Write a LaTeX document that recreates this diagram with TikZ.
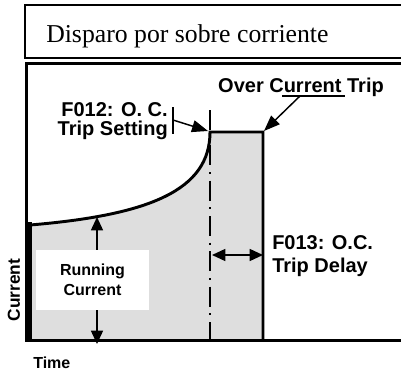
\documentclass[tikz,border=0pt]{standalone}
\usepackage{fontspec}
\setmainfont{Liberation Serif}
\setsansfont{Liberation Sans}
\usetikzlibrary{arrows.meta}
\definecolor{areagray}{RGB}{222,222,222}

\begin{document}
\begin{tikzpicture}[x=0.75pt, y=-0.75pt,
  lbl/.style={font=\sffamily\bfseries\fontsize{15}{14.5}\selectfont, inner sep=0pt},
  small/.style={font=\sffamily\bfseries\fontsize{12}{15}\selectfont, inner sep=0pt},
  curve/.style={line width=2.2pt, line join=miter},
  pointer/.style={line width=1.1pt, -{Triangle[length=12pt,width=9pt]}},
  both/.style={line width=1.1pt, {Triangle[length=10pt,width=9pt]}-{Triangle[length=10pt,width=9pt]}},
  dashdot/.style={line width=1.4pt, dash pattern=on 15pt off 5pt on 1.5pt off 5pt}]
\useasboundingbox (0,0) rectangle (401,372);
\clip (0,0) rectangle (401,372);
\coordinate (c0) at (30,225);
\coordinate (ctop) at (210,132);
\coordinate (ctr) at (263,132);
\coordinate (cbr) at (263,340);
\coordinate (cbl) at (30,340);
\coordinate (dtop) at (210,110);
\coordinate (dbot) at (210,340);
\coordinate (rtop) at (97,217);
\coordinate (rbot) at (97,344);
\coordinate (dl) at (212,255);
\coordinate (dr) at (263,255);
\coordinate (bt) at (173,107);
\coordinate (bb) at (173,134);
\coordinate (bm) at (173,120);
\coordinate (ul) at (282,96);
\coordinate (ur) at (345,96);
\coordinate (um) at (300,96);
\draw[line width=1.1pt] (25,5) rectangle (420,58);
\node[font=\fontsize{19.3}{23}\selectfont, inner sep=0pt, anchor=base west] (title) at (46,42) {Disparo por sobre corriente};
\fill[areagray] (c0) .. controls (150,215) and (210,190) .. (ctop) -- (ctr) -- (cbr) -- (cbl) -- cycle;
\draw[dashdot] (dtop) -- (dbot);
\draw[curve] (c0) .. controls (150,215) and (210,190) .. (ctop) -- (ctr) -- (cbr);
\draw[line width=2.25pt] (420,63.5) -- (26.5,63.5) -- (26.5,340) -- (420,340);
\draw[line width=3pt] (30,222) -- (cbl);
\draw[both] (rtop) -- (rbot);
\node[small, fill=white, minimum width=85, minimum height=45, align=center] (run) at (92.5,279.5) {Running\\Current};
\draw[both] (dl) -- (dr);
\node[lbl, anchor=base] (oct) at (301,92) {Over Current Trip};
\draw[line width=1.1pt] (ul) -- (ur);
\draw[pointer] (um) -- (264,131);
\node[lbl, anchor=north east, align=right] (set) at (168,102) {F012: O. C.\\Trip Setting};
\draw[line width=1.1pt] (bt) -- (bb);
\draw[pointer] (bm) -- (208,131);
\node[lbl, anchor=north west, align=left, font=\sffamily\bfseries\fontsize{15}{17.5}\selectfont] (delay) at (272,235) {F013: O.C.\\Trip Delay};
\node[small, font=\sffamily\bfseries\fontsize{13}{15}\selectfont, rotate=90, anchor=base] (cur) at (20,290) {Current};
\node[small, anchor=base west] (time) at (33,368) {Time};
\end{tikzpicture}
\end{document}
